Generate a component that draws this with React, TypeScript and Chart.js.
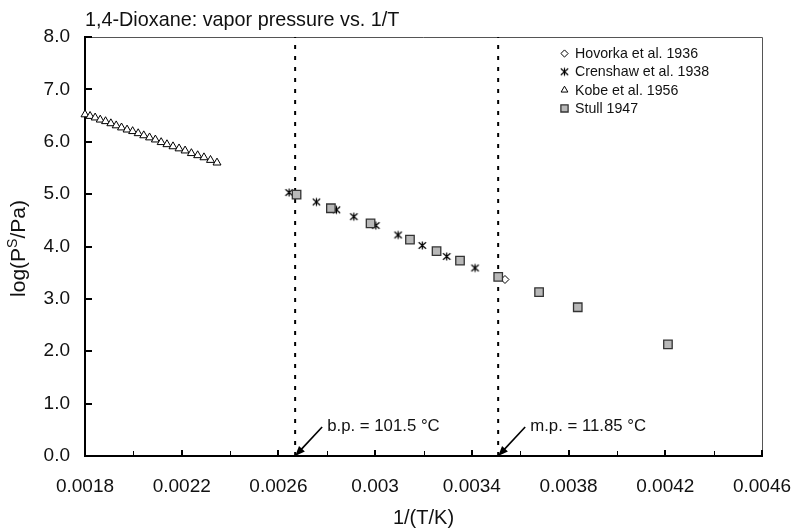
import React, { useEffect, useRef } from "react";
import { Chart, registerables } from "chart.js";
import { drawPoint } from "chart.js/helpers";

Chart.register(...registerables);

// ---------- data ----------
const chartTitle = "1,4-Dioxane: vapor pressure vs. 1/T";
const xAxisTitle = "1/(T/K)";
const yAxisTitleParts = ["log(P", "S", "/Pa)"];

const seriesNames = ["Hovorka et al. 1936", "Crenshaw et al. 1938", "Kobe et al. 1956", "Stull 1947"];

const hovorkaX = [0.003537];
const hovorkaY = [3.37];

const crenshawX = [0.002644, 0.002757, 0.00284, 0.002912, 0.003003, 0.003095, 0.003195, 0.003296, 0.003413];
const crenshawY = [5.03, 4.85, 4.7, 4.57, 4.4, 4.22, 4.02, 3.81, 3.59];

const kobeX = [
  0.0018, 0.001821, 0.001842, 0.001863, 0.001885, 0.001907, 0.001929, 0.001951, 0.001974, 0.001997, 0.00202, 0.002043,
  0.002067, 0.002091, 0.002115, 0.002139, 0.002164, 0.002189, 0.002214, 0.00224, 0.002266, 0.002292, 0.002319, 0.002346,
];
const kobeY = [
  6.52, 6.49, 6.46, 6.42, 6.39, 6.35, 6.31, 6.27, 6.23, 6.2, 6.16, 6.12, 6.08, 6.04, 5.99, 5.95, 5.91, 5.87, 5.83, 5.78,
  5.74, 5.7, 5.65, 5.6,
];

const stullX = [0.002675, 0.002817, 0.002981, 0.003144, 0.003254, 0.003351, 0.003509, 0.003678, 0.003838, 0.004211];
const stullY = [4.99, 4.73, 4.44, 4.13, 3.91, 3.73, 3.42, 3.13, 2.84, 2.13];

const xTickValues = [0.0018, 0.0022, 0.0026, 0.003, 0.0034, 0.0038, 0.0042, 0.0046];
const xTickLabels = ["0.0018", "0.0022", "0.0026", "0.003", "0.0034", "0.0038", "0.0042", "0.0046"];
const xMinorTicks = [0.002, 0.0024, 0.0028, 0.0032, 0.0036, 0.004, 0.0044];
const yTickValues = [0, 1, 2, 3, 4, 5, 6, 7, 8];
const yTickLabels = ["0.0", "1.0", "2.0", "3.0", "4.0", "5.0", "6.0", "7.0", "8.0"];

// b.p. = 101.5 °C (374.65 K), m.p. = 11.85 °C (285.0 K)
const markerLineX = [0.0026691, 0.0035088];
const markerLabels = ["b.p. = 101.5 °C", "m.p. = 11.85 °C"];

const FONT = "'Liberation Sans', Arial, Helvetica, sans-serif";

const zip = (xs: number[], ys: number[]) => xs.map((x, i) => ({ x, y: ys[i] }));

function makeAsterisk(): HTMLCanvasElement {
  const c = document.createElement("canvas");
  c.width = 11;
  c.height = 11;
  const g = c.getContext("2d")!;
  g.strokeStyle = "#000";
  g.lineWidth = 1.2;
  g.beginPath();
  g.moveTo(5.5, 1.5);
  g.lineTo(5.5, 9.5);
  g.moveTo(1.8, 2.3);
  g.lineTo(9.2, 8.7);
  g.moveTo(9.2, 2.3);
  g.lineTo(1.8, 8.7);
  g.stroke();
  return c;
}

export default function App() {
  const ref = useRef<HTMLCanvasElement | null>(null);

  useEffect(() => {
    if (!ref.current) return;
    const star = makeAsterisk();

    const markerStyles = [
      { pointStyle: "rectRot", radius: 4, bg: "#fff", border: "#000", bw: 1 },
      { pointStyle: star, radius: 5, bg: "#000", border: "#000", bw: 1 },
      { pointStyle: "triangle", radius: 4.6, bg: "#fff", border: "#000", bw: 1 },
      { pointStyle: "rect", radius: 6, bg: "#b8b8b8", border: "#333", bw: 1.3 },
    ];

    const decor = {
      id: "decor",
      beforeDatasetsDraw(chart: any) {
        const { ctx, chartArea: a } = chart;
        ctx.save();
        ctx.strokeStyle = "#555";
        ctx.lineWidth = 1;
        ctx.beginPath();
        ctx.moveTo(a.left, a.top + 0.5);
        ctx.lineTo(a.right + 0.5, a.top + 0.5);
        ctx.lineTo(a.right + 0.5, a.bottom);
        ctx.stroke();
        ctx.restore();
      },
      afterDraw(chart: any) {
        const { ctx, chartArea: a } = chart;
        const xs = chart.scales.x;
        const ys = chart.scales.y;
        ctx.save();
        // inner ticks
        ctx.strokeStyle = "#000";
        xTickValues.forEach((v) => {
          const px = Math.round(xs.getPixelForValue(v));
          ctx.lineWidth = 2;
          ctx.beginPath();
          ctx.moveTo(px, a.bottom);
          ctx.lineTo(px, a.bottom - 6);
          ctx.stroke();
        });
        xMinorTicks.forEach((v) => {
          const px = Math.round(xs.getPixelForValue(v)) + 0.5;
          ctx.lineWidth = 1;
          ctx.beginPath();
          ctx.moveTo(px, a.bottom);
          ctx.lineTo(px, a.bottom - 5);
          ctx.stroke();
        });
        yTickValues.forEach((v) => {
          const py = Math.round(ys.getPixelForValue(v));
          ctx.lineWidth = 2;
          ctx.beginPath();
          ctx.moveTo(a.left, py);
          ctx.lineTo(a.left + 7, py);
          ctx.stroke();
        });

        // title
        ctx.fillStyle = "#111";
        ctx.font = `19.8px ${FONT}`;
        ctx.textAlign = "left";
        ctx.textBaseline = "alphabetic";
        ctx.fillText(chartTitle, a.left, 26);

        // y axis title with superscript
        const bigF = `21px ${FONT}`;
        const smallF = `14px ${FONT}`;
        ctx.font = bigF;
        const w0 = ctx.measureText(yAxisTitleParts[0]).width;
        const w2 = ctx.measureText(yAxisTitleParts[2]).width;
        ctx.font = smallF;
        const w1 = ctx.measureText(yAxisTitleParts[1]).width;
        const total = w0 + w1 + w2;
        ctx.translate(25, (a.top + a.bottom) / 2 + 2);
        ctx.rotate(-Math.PI / 2);
        let cx = -total / 2;
        ctx.font = bigF;
        ctx.fillText(yAxisTitleParts[0], cx, 0);
        cx += w0;
        ctx.font = smallF;
        ctx.fillText(yAxisTitleParts[1], cx, -8);
        cx += w1;
        ctx.font = bigF;
        ctx.fillText(yAxisTitleParts[2], cx, 0);
        ctx.setTransform(1, 0, 0, 1, 0, 0);

        // annotations: arrows and labels
        const y0 = ys.getPixelForValue(0);
        markerLineX.forEach((v, i) => {
          const tx = xs.getPixelForValue(v);
          const ty = y0;
          const sx = tx + 27;
          const sy = ty - 29;
          const ang = Math.atan2(ty - sy, tx - sx);
          const hl = 10;
          const hw = 4;
          ctx.strokeStyle = "#000";
          ctx.fillStyle = "#000";
          ctx.lineWidth = 1.6;
          ctx.beginPath();
          ctx.moveTo(sx, sy);
          ctx.lineTo(tx - Math.cos(ang) * (hl - 2), ty - Math.sin(ang) * (hl - 2));
          ctx.stroke();
          const bx = tx - Math.cos(ang) * hl;
          const by = ty - Math.sin(ang) * hl;
          ctx.beginPath();
          ctx.moveTo(tx, ty);
          ctx.lineTo(bx + Math.sin(ang) * hw, by - Math.cos(ang) * hw);
          ctx.lineTo(bx - Math.sin(ang) * hw, by + Math.cos(ang) * hw);
          ctx.closePath();
          ctx.fill();
          ctx.fillStyle = "#111";
          ctx.font = `16.8px ${FONT}`;
          ctx.textAlign = "left";
          ctx.textBaseline = "middle";
          ctx.fillText(markerLabels[i], tx + 32, ty - 30);
        });

        // legend
        ctx.textBaseline = "middle";
        ctx.textAlign = "left";
        ctx.font = `14.2px ${FONT}`;
        const legendScale = [0.9, 0.9, 0.85, 0.85];
        seriesNames.forEach((name, i) => {
          const y = 53.5 + i * 18.3;
          const m = markerStyles[i];
          ctx.fillStyle = m.bg;
          ctx.strokeStyle = m.border;
          ctx.lineWidth = m.bw;
          drawPoint(ctx, { pointStyle: m.pointStyle as any, radius: m.radius * legendScale[i], borderWidth: m.bw, rotation: 0 } as any, 564.5, y);
          ctx.fillStyle = "#111";
          ctx.fillText(name, 575, y + 0.5);
        });
        ctx.restore();
      },
    };

    const scatterDs = (i: number, data: any[], order: number) => ({
      type: "scatter" as const,
      label: seriesNames[i],
      data,
      pointStyle: markerStyles[i].pointStyle as any,
      pointRadius: markerStyles[i].radius,
      pointBackgroundColor: markerStyles[i].bg,
      pointBorderColor: markerStyles[i].border,
      pointBorderWidth: markerStyles[i].bw,
      backgroundColor: markerStyles[i].bg,
      borderColor: markerStyles[i].border,
      showLine: false,
      clip: false as any,
      order,
    });

    const vline = (x: number) => ({
      type: "line" as const,
      label: "",
      data: [
        { x, y: 0 },
        { x, y: 8 },
      ],
      borderColor: "#000",
      borderWidth: 2,
      borderDash: [4, 7],
      pointRadius: 0,
      showLine: true,
      fill: false,
      order: 10,
    });

    const chart = new Chart(ref.current, {
      type: "scatter",
      data: {
        datasets: [
          scatterDs(0, zip(hovorkaX, hovorkaY), 3),
          scatterDs(1, zip(crenshawX, crenshawY), 2),
          scatterDs(2, zip(kobeX, kobeY), 1),
          scatterDs(3, zip(stullX, stullY), 0),
          vline(markerLineX[0]),
          vline(markerLineX[1]),
        ] as any,
      },
      options: {
        responsive: false,
        animation: false,
        devicePixelRatio: 1,
        events: [],
        layout: { padding: { left: 0, top: 37, right: 34, bottom: 0 } },
        plugins: {
          legend: { display: false },
          tooltip: { enabled: false },
          title: { display: false },
        },
        scales: {
          x: {
            type: "linear",
            min: 0.0018,
            max: 0.0046,
            afterBuildTicks: (s: any) => {
              s.ticks = xTickValues.map((value) => ({ value }));
            },
            afterFit: (s: any) => {
              s.height = 74;
              s.paddingLeft = 0;
              s.paddingRight = 0;
            },
            ticks: {
              autoSkip: false,
              maxRotation: 0,
              padding: 19,
              color: "#111",
              font: { family: FONT, size: 19 },
              callback: (_v: any, i: number) => xTickLabels[i],
            },
            grid: { display: true, drawOnChartArea: false, drawTicks: false },
            border: { display: true, color: "#000", width: 2 },
            title: {
              display: true,
              text: xAxisTitle,
              color: "#111",
              font: { family: FONT, size: 20 },
              padding: { top: 0, bottom: 0 },
            },
          },
          y: {
            type: "linear",
            min: 0,
            max: 8,
            afterBuildTicks: (s: any) => {
              s.ticks = yTickValues.map((value) => ({ value }));
            },
            afterFit: (s: any) => {
              s.width = 85;
              s.paddingTop = 0;
              s.paddingBottom = 0;
            },
            ticks: {
              padding: 15,
              color: "#111",
              font: { family: FONT, size: 19 },
              callback: (_v: any, i: number) => yTickLabels[i],
            },
            grid: { display: true, drawOnChartArea: false, drawTicks: false },
            border: { display: true, color: "#000", width: 2 },
          },
        },
      },
      plugins: [decor],
    });
    return () => chart.destroy();
  }, []);

  return (
    <div style={{ position: "fixed", left: 0, top: 0, width: 796, height: 530, background: "#fff" }}>
      <canvas ref={ref} width={796} height={530} style={{ width: 796, height: 530, display: "block" }} />
    </div>
  );
}
